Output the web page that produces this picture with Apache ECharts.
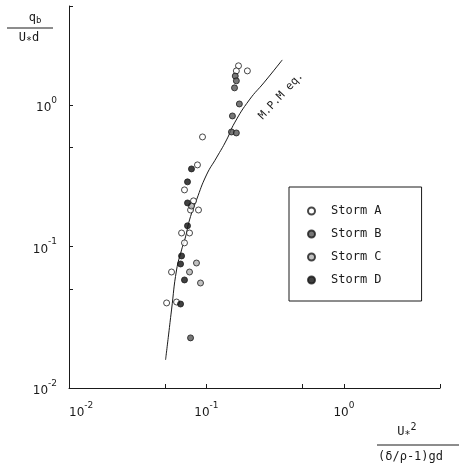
<!DOCTYPE html>
<html><head><meta charset="utf-8">
<script src="https://cdn.jsdelivr.net/npm/echarts@6/dist/echarts.min.js"></script>
<style>html,body{margin:0;padding:0;background:#fff}#c{width:459px;height:469px}</style>
</head><body><div id="c"></div>
<script>
// Data (x = U*^2/((σ/ρ-1)gd), y = q_b/(U* d))
const stormA = [[0.171,1.89],[0.165,1.74],[0.1985,1.74],[0.0936,0.594],[0.086,0.377],[0.0692,0.251],[0.0805,0.210],[0.0766,0.181],[0.0875,0.181],[0.0659,0.1245],[0.0753,0.1245],[0.0692,0.106],[0.0557,0.066],[0.0513,0.0399],[0.0606,0.0405]];
const stormB = [[0.162,1.60],[0.165,1.48],[0.160,1.32],[0.1735,1.016],[0.1545,0.836],[0.152,0.644],[0.165,0.634],[0.0766,0.0226]];
const stormC = [[0.0778,0.193],[0.0846,0.0764],[0.0753,0.066],[0.0905,0.0552]];
const stormD = [[0.0778,0.353],[0.0728,0.286],[0.0728,0.203],[0.0728,0.140],[0.0659,0.0857],[0.0648,0.0752],[0.0692,0.058],[0.0648,0.0392]];
const mpmCurve = [[0.0504,0.0158],[0.053,0.0237],[0.0557,0.0356],[0.0606,0.0682],[0.0659,0.0945],[0.0704,0.1167],[0.0753,0.154],[0.0846,0.213],[0.1,0.320],[0.118,0.422],[0.140,0.566],[0.160,0.746],[0.205,1.085],[0.264,1.45],[0.356,2.08]];
const seriesNames = ['Storm A','Storm B','Storm C','Storm D'];
const xTickValues = [0.05,0.1,0.5,1,5];
const xLabelValues = [0.01,0.1,1];
const yTickValues = [0.05,0.1,0.5,1,5];
const yLabelValues = [0.01,0.1,1];

const ink = '#1a1a1a';
const mono = 'DejaVu Sans Mono';
function powLabel(v){ const e = Math.round(Math.log10(v)); return '{b|10}{s|' + e + '}'; }
const rich = { b:{fontSize:12, fontFamily:'DejaVu Sans', color:ink, verticalAlign:'bottom', lineHeight:18},
               s:{fontSize:9, fontFamily:'DejaVu Sans', color:ink, verticalAlign:'top', lineHeight:18} };

const chart = echarts.init(document.getElementById('c'));
const mk = (name, data, fill) => ({
  name, type:'scatter', data, symbol:'circle', symbolSize:6,
  itemStyle:{color:fill, borderColor:ink, borderWidth:1}, z:3
});
chart.setOption({
  animation:false,
  backgroundColor:'#fff',
  grid:{left:69, right:19, top:6, bottom:81},
  xAxis:{type:'log', logBase:10, min:0.01, max:5,
    axisLine:{lineStyle:{color:ink, width:1}},
    axisTick:{inside:true, length:4, customValues:xTickValues, lineStyle:{color:ink}},
    axisLabel:{customValues:xLabelValues, formatter:powLabel, rich, margin:13, alignMinLabel:'left'},
    splitLine:{show:false}, minorTick:{show:false}},
  yAxis:{type:'log', logBase:10, min:0.01, max:5,
    axisLine:{show:true, lineStyle:{color:ink, width:1}},
    axisTick:{show:true, inside:true, length:4, customValues:yTickValues, lineStyle:{color:ink}},
    axisLabel:{customValues:yLabelValues, formatter:powLabel, rich, margin:12},
    splitLine:{show:false}},
  legend:{orient:'vertical', left:289, top:187, data:seriesNames,
    padding:[18,40,15,18], itemGap:11, itemWidth:7, itemHeight:7,
    borderColor:ink, borderWidth:1,
    textStyle:{fontFamily:mono, fontSize:12, color:ink, padding:[0,0,0,11]}},
  series:[
    mk('Storm A', stormA, '#ffffff'),
    mk('Storm B', stormB, '#555555'),
    mk('Storm C', stormC, '#b0b0b0'),
    mk('Storm D', stormD, '#111111'),
    {name:'M.P.M eq.', type:'line', data:mpmCurve, showSymbol:false, smooth:0.5,
     lineStyle:{color:ink, width:1}, z:2, silent:true}
  ],
  graphic:[
    {type:'text', x:281, y:96, rotation:47*Math.PI/180, style:{text:'M.P.M eq.', fontFamily:mono, fontSize:11, fill:ink, align:'center', verticalAlign:'middle'}},
    {type:'text', x:35, y:18, style:{text:'{n|q}{u|b}', align:'center', verticalAlign:'middle', rich:{n:{fontFamily:mono,fontSize:12,fill:ink}, u:{fontFamily:mono,fontSize:9,fill:ink,padding:[6,0,0,0]}}}},
    {type:'line', shape:{x1:7, y1:28, x2:53, y2:28}, style:{stroke:ink, lineWidth:1}},
    {type:'text', x:29, y:38, style:{text:'{n|U}{u|*}{n|d}', align:'center', verticalAlign:'middle', rich:{n:{fontFamily:mono,fontSize:12,fill:ink}, u:{fontFamily:mono,fontSize:10,fill:ink,padding:[6,0,0,0]}}}},
    {type:'text', x:407, y:432, style:{text:'{n|U}{u|*}{p|2}', align:'center', verticalAlign:'middle', rich:{n:{fontFamily:mono,fontSize:12,fill:ink}, u:{fontFamily:mono,fontSize:10,fill:ink,padding:[6,0,0,0]}, p:{fontFamily:mono,fontSize:10,fill:ink,padding:[0,0,10,0]}}}},
    {type:'line', shape:{x1:377, y1:445, x2:459, y2:445}, style:{stroke:ink, lineWidth:1}},
    {type:'text', x:378, y:457, style:{text:'(δ/ρ-1)gd', fontFamily:mono, fontSize:12, fill:ink, align:'left', verticalAlign:'middle'}}
  ]
});
</script></body></html>
